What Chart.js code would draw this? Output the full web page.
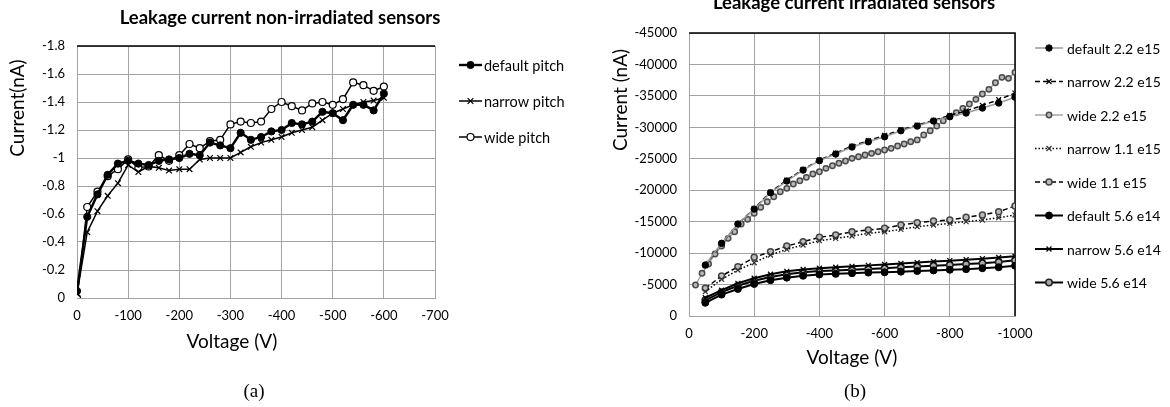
<!DOCTYPE html>
<html>
<head>
<meta charset="utf-8">
<script src="https://cdn.jsdelivr.net/npm/chart.js@4.4.1/dist/chart.umd.min.js"></script>
<style>
  html, body { margin: 0; padding: 0; background: #fff; }
  #wrap { position: relative; width: 1170px; height: 407px; overflow: hidden; }
  canvas { position: absolute; top: 0; }
  #chartA { left: 0; }
  #chartB { left: 590px; }
</style>
</head>
<body>
<div id="wrap">
  <canvas id="chartA" width="590" height="407"></canvas>
  <canvas id="chartB" width="580" height="407"></canvas>
</div>
<script>
// ---- (a) non-irradiated sensors, one point every 20 V
const voltsA = [0, -20, -40, -60, -80, -100, -120, -140, -160, -180, -200, -220, -240, -260, -280, -300,
  -320, -340, -360, -380, -400, -420, -440, -460, -480, -500, -520, -540, -560, -580, -600];
const defaultPitch = [-0.05, -0.58, -0.74, -0.88, -0.96, -0.98, -0.96, -0.95, -0.98, -0.99, -1.0, -1.03, -1.02, -1.11, -1.09, -1.07,
  -1.18, -1.13, -1.15, -1.19, -1.2, -1.25, -1.24, -1.26, -1.33, -1.32, -1.27, -1.38, -1.38, -1.34, -1.46];
const narrowPitch = [-0.03, -0.47, -0.62, -0.73, -0.82, -0.95, -0.9, -0.94, -0.93, -0.91, -0.92, -0.92, -0.99, -1.0, -1.0, -1.0,
  -1.04, -1.08, -1.11, -1.13, -1.15, -1.18, -1.2, -1.22, -1.27, -1.32, -1.35, -1.38, -1.4, -1.41, -1.43];
const widePitch = [0, -0.65, -0.76, -0.87, -0.92, -0.99, -0.93, -0.94, -1.02, -0.98, -1.02, -1.1, -1.07, -1.12, -1.13, -1.24,
  -1.26, -1.25, -1.26, -1.35, -1.4, -1.37, -1.34, -1.39, -1.4, -1.38, -1.42, -1.54, -1.52, -1.48, -1.51];
const xTicksA = [0, -100, -200, -300, -400, -500, -600, -700];
const yTicksA = [0, -0.2, -0.4, -0.6, -0.8, -1, -1.2, -1.4, -1.6, -1.8];

// ---- (b) irradiated sensors
const volts50 = [-50, -100, -150, -200, -250, -300, -350, -400, -450, -500,
  -550, -600, -650, -700, -750, -800, -850, -900, -950, -1000];
const volts20 = [-20, -40, -60, -80, -100, -120, -140, -160, -180, -200, -220, -240, -260, -280, -300, -320, -340,
  -360, -380, -400, -420, -440, -460, -480, -500, -520, -540, -560, -580, -600, -620, -640, -660, -680, -700,
  -720, -740, -760, -780, -800, -820, -840, -860, -880, -900, -920, -940, -960, -980, -1000];
const default22 = [-8100, -11560, -14630, -17000, -19600, -21460, -23200, -24700, -25750, -26870,
  -27700, -28500, -29460, -30200, -31000, -31700, -32270, -33070, -33860, -34800];
const narrow22 = [-8000, -11500, -14600, -17100, -19700, -21600, -23300, -24800, -25900, -27000,
  -27900, -28700, -29600, -30350, -31100, -31900, -32600, -33500, -34400, -35450];
const wide22 = [-4930, -6790, -8270, -9860, -11130, -12350, -13400, -14630, -15370, -16330, -17280, -18170, -18970,
  -19760, -20300, -20990, -21510, -22050, -22580, -22940, -23480, -23900, -24280, -24650, -25070, -25330, -25600,
  -25860, -26120, -26390, -26660, -27030, -27340, -27710, -28000, -28780, -29460, -30210, -31050, -31690, -32330,
  -33020, -33700, -34450, -35290, -36040, -37090, -37950, -37790, -38740];
const narrow11 = [-3870, -5830, -7310, -8470, -9700, -10600, -11290, -11970, -12350, -12720,
  -13140, -13400, -13780, -14200, -14470, -14730, -15000, -15260, -15630, -16060];
const wide11 = [-4400, -6360, -7840, -9330, -10230, -11130, -11810, -12510, -12880, -13400,
  -13670, -13940, -14470, -14830, -15100, -15260, -15690, -16060, -16580, -17490];
const default56 = [-2100, -3400, -4300, -5100, -5700, -6100, -6400, -6600, -6700, -6800,
  -6900, -6950, -7050, -7150, -7250, -7350, -7450, -7600, -7750, -8000];
const narrow56 = [-2900, -4100, -5200, -6000, -6650, -7100, -7400, -7600, -7750, -7900,
  -8050, -8200, -8350, -8500, -8650, -8800, -8950, -9100, -9300, -9500];
const wide56 = [-2500, -3800, -4800, -5600, -6200, -6650, -6950, -7150, -7250, -7350,
  -7480, -7600, -7750, -7880, -8000, -8120, -8250, -8400, -8600, -8850];
const xTicksB = [0, -200, -400, -600, -800, -1000];
const yTicksB = [0, -5000, -10000, -15000, -20000, -25000, -30000, -35000, -40000, -45000];

const GRID = '#a3a3a3';
const FONT = 'Lato, "Open Sans", sans-serif';
Chart.defaults.font.family = FONT;
Chart.defaults.color = '#000';

const pts = (xs, ys) => ys.map((y, i) => ({ x: xs[i], y }));

const series = (label, xs, ys, s) => ({
  label,
  data: pts(xs, ys),
  showLine: true,
  tension: 0,
  borderColor: s.line,
  borderWidth: s.lw,
  borderDash: s.dash || [],
  pointStyle: s.marker,
  pointRadius: s.r,
  pointHoverRadius: s.r,
  pointBorderWidth: s.mlw,
  pointBackgroundColor: s.fill,
  pointBorderColor: s.stroke
});

function drawMarker(ctx, ds, x, y) {
  ctx.save();
  ctx.setLineDash([]);
  ctx.lineWidth = ds.pointBorderWidth;
  ctx.strokeStyle = ds.pointBorderColor;
  ctx.fillStyle = ds.pointBackgroundColor;
  Chart.helpers.drawPoint(ctx, {
    pointStyle: ds.pointStyle, rotation: 0, radius: ds.pointRadius, borderWidth: ds.pointBorderWidth
  }, x, y);
  ctx.restore();
}

// title, axis titles, caption, side legend and the dark frame edges
const decor = {
  id: 'decor',
  beforeDatasetsDraw(chart, args, o) {
    const { ctx, chartArea: a } = chart;
    ctx.save();
    ctx.strokeStyle = '#000';
    ctx.lineWidth = 1.5;
    ctx.beginPath();
    ctx.moveTo(a.left, a.top);
    ctx.lineTo(a.right, a.top);
    if (o.rightEdge) ctx.lineTo(a.right, a.bottom);
    ctx.stroke();
    ctx.restore();
  },
  afterDraw(chart, args, o) {
    const { ctx, chartArea: a } = chart;
    const cx = (a.left + a.right) / 2;
    ctx.save();
    ctx.fillStyle = '#000';
    ctx.textAlign = 'center';
    ctx.textBaseline = 'alphabetic';
    ctx.font = 'bold 18.5px ' + FONT;
    ctx.fillText(o.title, cx + o.titleDx, o.titleY);

    ctx.textBaseline = 'middle';
    ctx.font = '19px ' + FONT;
    ctx.fillText(o.xTitle, cx + o.xTitleDx, o.xTitleY);
    ctx.save();
    ctx.translate(o.yTitleX, o.yTitleY);
    ctx.rotate(-Math.PI / 2);
    ctx.fillText(o.yTitle, 0, 0);
    ctx.restore();

    ctx.textBaseline = 'alphabetic';
    ctx.font = '19px "Liberation Serif", "Times New Roman", serif';
    ctx.fillText(o.caption, cx + o.capDx, o.capY);

    const L = o.legend;
    ctx.font = L.size + 'px ' + FONT;
    ctx.textAlign = 'left';
    ctx.textBaseline = 'middle';
    chart.data.datasets.forEach((ds, i) => {
      const y = L.y + i * L.dy;
      ctx.save();
      ctx.strokeStyle = ds.borderColor;
      ctx.lineWidth = ds.borderWidth;
      ctx.setLineDash(ds.borderDash);
      ctx.beginPath();
      ctx.moveTo(L.x, y);
      ctx.lineTo(L.x + L.len, y);
      ctx.stroke();
      ctx.restore();
      drawMarker(ctx, ds, L.x + L.len / 2, y);
      ctx.fillText(ds.label, L.x + L.len + L.gap, y + 1);
    });
    ctx.restore();
  }
};

const axis = (cfg) => ({
  type: 'linear',
  min: cfg.min,
  max: cfg.max,
  reverse: true,
  afterBuildTicks: s => { s.ticks = cfg.ticks.map(value => ({ value })); },
  afterFit: s => { if (cfg.width) s.width = cfg.width; if (cfg.height) s.height = cfg.height; },
  ticks: { padding: cfg.pad, font: { size: 13 }, color: '#000', callback: cfg.fmt },
  grid: { color: GRID, lineWidth: 1, drawTicks: false },
  border: { color: GRID, width: 1 }
});

const black = '#000';
const styleA = {
  def: { line: black, lw: 2.4, marker: 'circle', r: 3.6, mlw: 1, fill: black, stroke: black },
  nar: { line: black, lw: 1.5, marker: 'crossRot', r: 4, mlw: 1.2, fill: black, stroke: black },
  wid: { line: black, lw: 1.5, marker: 'circle', r: 3.5, mlw: 1.2, fill: '#fff', stroke: black }
};

new Chart(document.getElementById('chartA'), {
  type: 'line',
  data: {
    datasets: [
      series('default pitch', voltsA, defaultPitch, styleA.def),
      series('narrow pitch', voltsA, narrowPitch, styleA.nar),
      series('wide pitch', voltsA, widePitch, styleA.wid)
    ]
  },
  options: {
    responsive: false,
    animation: false,
    devicePixelRatio: 1,
    layout: { padding: { left: 6, right: 155, top: 46, bottom: 53 } },
    plugins: {
      legend: { display: false },
      tooltip: { enabled: false },
      decor: {
        title: 'Leakage current non-irradiated sensors', titleDx: 24, titleY: 24,
        xTitle: 'Voltage (V)', xTitleDx: -24, xTitleY: 342,
        yTitle: 'Current(nA)', yTitleX: 18, yTitleY: 108,
        caption: '(a)', capY: 397, capDx: -2, rightEdge: false,
        legend: { x: 459, y: 65, dy: 36, len: 23, gap: 2, size: 14.5 }
      }
    },
    scales: {
      x: axis({ min: -700, max: 0, ticks: xTicksA, height: 56, pad: 10, fmt: v => String(v) }),
      y: axis({ min: -1.8, max: 0, ticks: yTicksA, width: 71, pad: 12,
        fmt: v => String(Math.round(v * 10) / 10) })
    }
  },
  plugins: [decor]
});

const grey = '#9a9a9a';
const styleB = {
  def22: { line: grey, lw: 1.5, marker: 'circle', r: 3.2, mlw: 1, fill: black, stroke: black },
  nar22: { line: black, lw: 1.5, dash: [5, 3], marker: 'crossRot', r: 3.5, mlw: 1.2, fill: black, stroke: black },
  wid22: { line: grey, lw: 1.3, marker: 'circle', r: 2.7, mlw: 1.5, fill: '#b8b8b8', stroke: '#4a4a4a' },
  nar11: { line: black, lw: 1.5, dash: [1.5, 2], marker: 'crossRot', r: 3.5, mlw: 1.2, fill: black, stroke: '#333' },
  wid11: { line: black, lw: 1.5, dash: [5, 3], marker: 'circle', r: 3, mlw: 1.5, fill: '#bbb', stroke: '#444' },
  def56: { line: black, lw: 2, marker: 'circle', r: 3.5, mlw: 1, fill: black, stroke: black },
  nar56: { line: black, lw: 2, marker: 'crossRot', r: 3.5, mlw: 1.2, fill: black, stroke: black },
  wid56: { line: black, lw: 2, marker: 'circle', r: 3.2, mlw: 1.5, fill: '#aaa', stroke: '#222' }
};

new Chart(document.getElementById('chartB'), {
  type: 'line',
  data: {
    datasets: [
      series('default 2.2 e15', volts50, default22, styleB.def22),
      series('narrow 2.2 e15', volts50, narrow22, styleB.nar22),
      series('wide 2.2 e15', volts20, wide22, styleB.wid22),
      series('narrow 1.1 e15', volts50, narrow11, styleB.nar11),
      series('wide 1.1 e15', volts50, wide11, styleB.wid11),
      series('default 5.6 e14', volts50, default56, styleB.def56),
      series('narrow 5.6 e14', volts50, narrow56, styleB.nar56),
      series('wide 5.6 e14', volts50, wide56, styleB.wid56)
    ]
  },
  options: {
    responsive: false,
    animation: false,
    devicePixelRatio: 1,
    layout: { padding: { left: 19, right: 155, top: 33, bottom: 37 } },
    plugins: {
      legend: { display: false },
      tooltip: { enabled: false },
      decor: {
        title: 'Leakage current irradiated sensors', titleDx: 2, titleY: 9,
        xTitle: 'Voltage (V)', xTitleDx: 0, xTitleY: 358,
        yTitle: 'Current (nA)', yTitleX: 31, yTitleY: 100,
        caption: '(b)', capY: 397, capDx: 3, rightEdge: true,
        legend: { x: 445, y: 48, dy: 33.5, len: 28, gap: 4, size: 14 }
      }
    },
    scales: {
      x: axis({ min: -1000, max: 0, ticks: xTicksB, height: 54, pad: 10, fmt: v => String(v) }),
      y: axis({ min: -45000, max: 0, ticks: yTicksB, width: 80, pad: 12, fmt: v => String(v) })
    }
  },
  plugins: [decor]
});
</script>
</body>
</html>
